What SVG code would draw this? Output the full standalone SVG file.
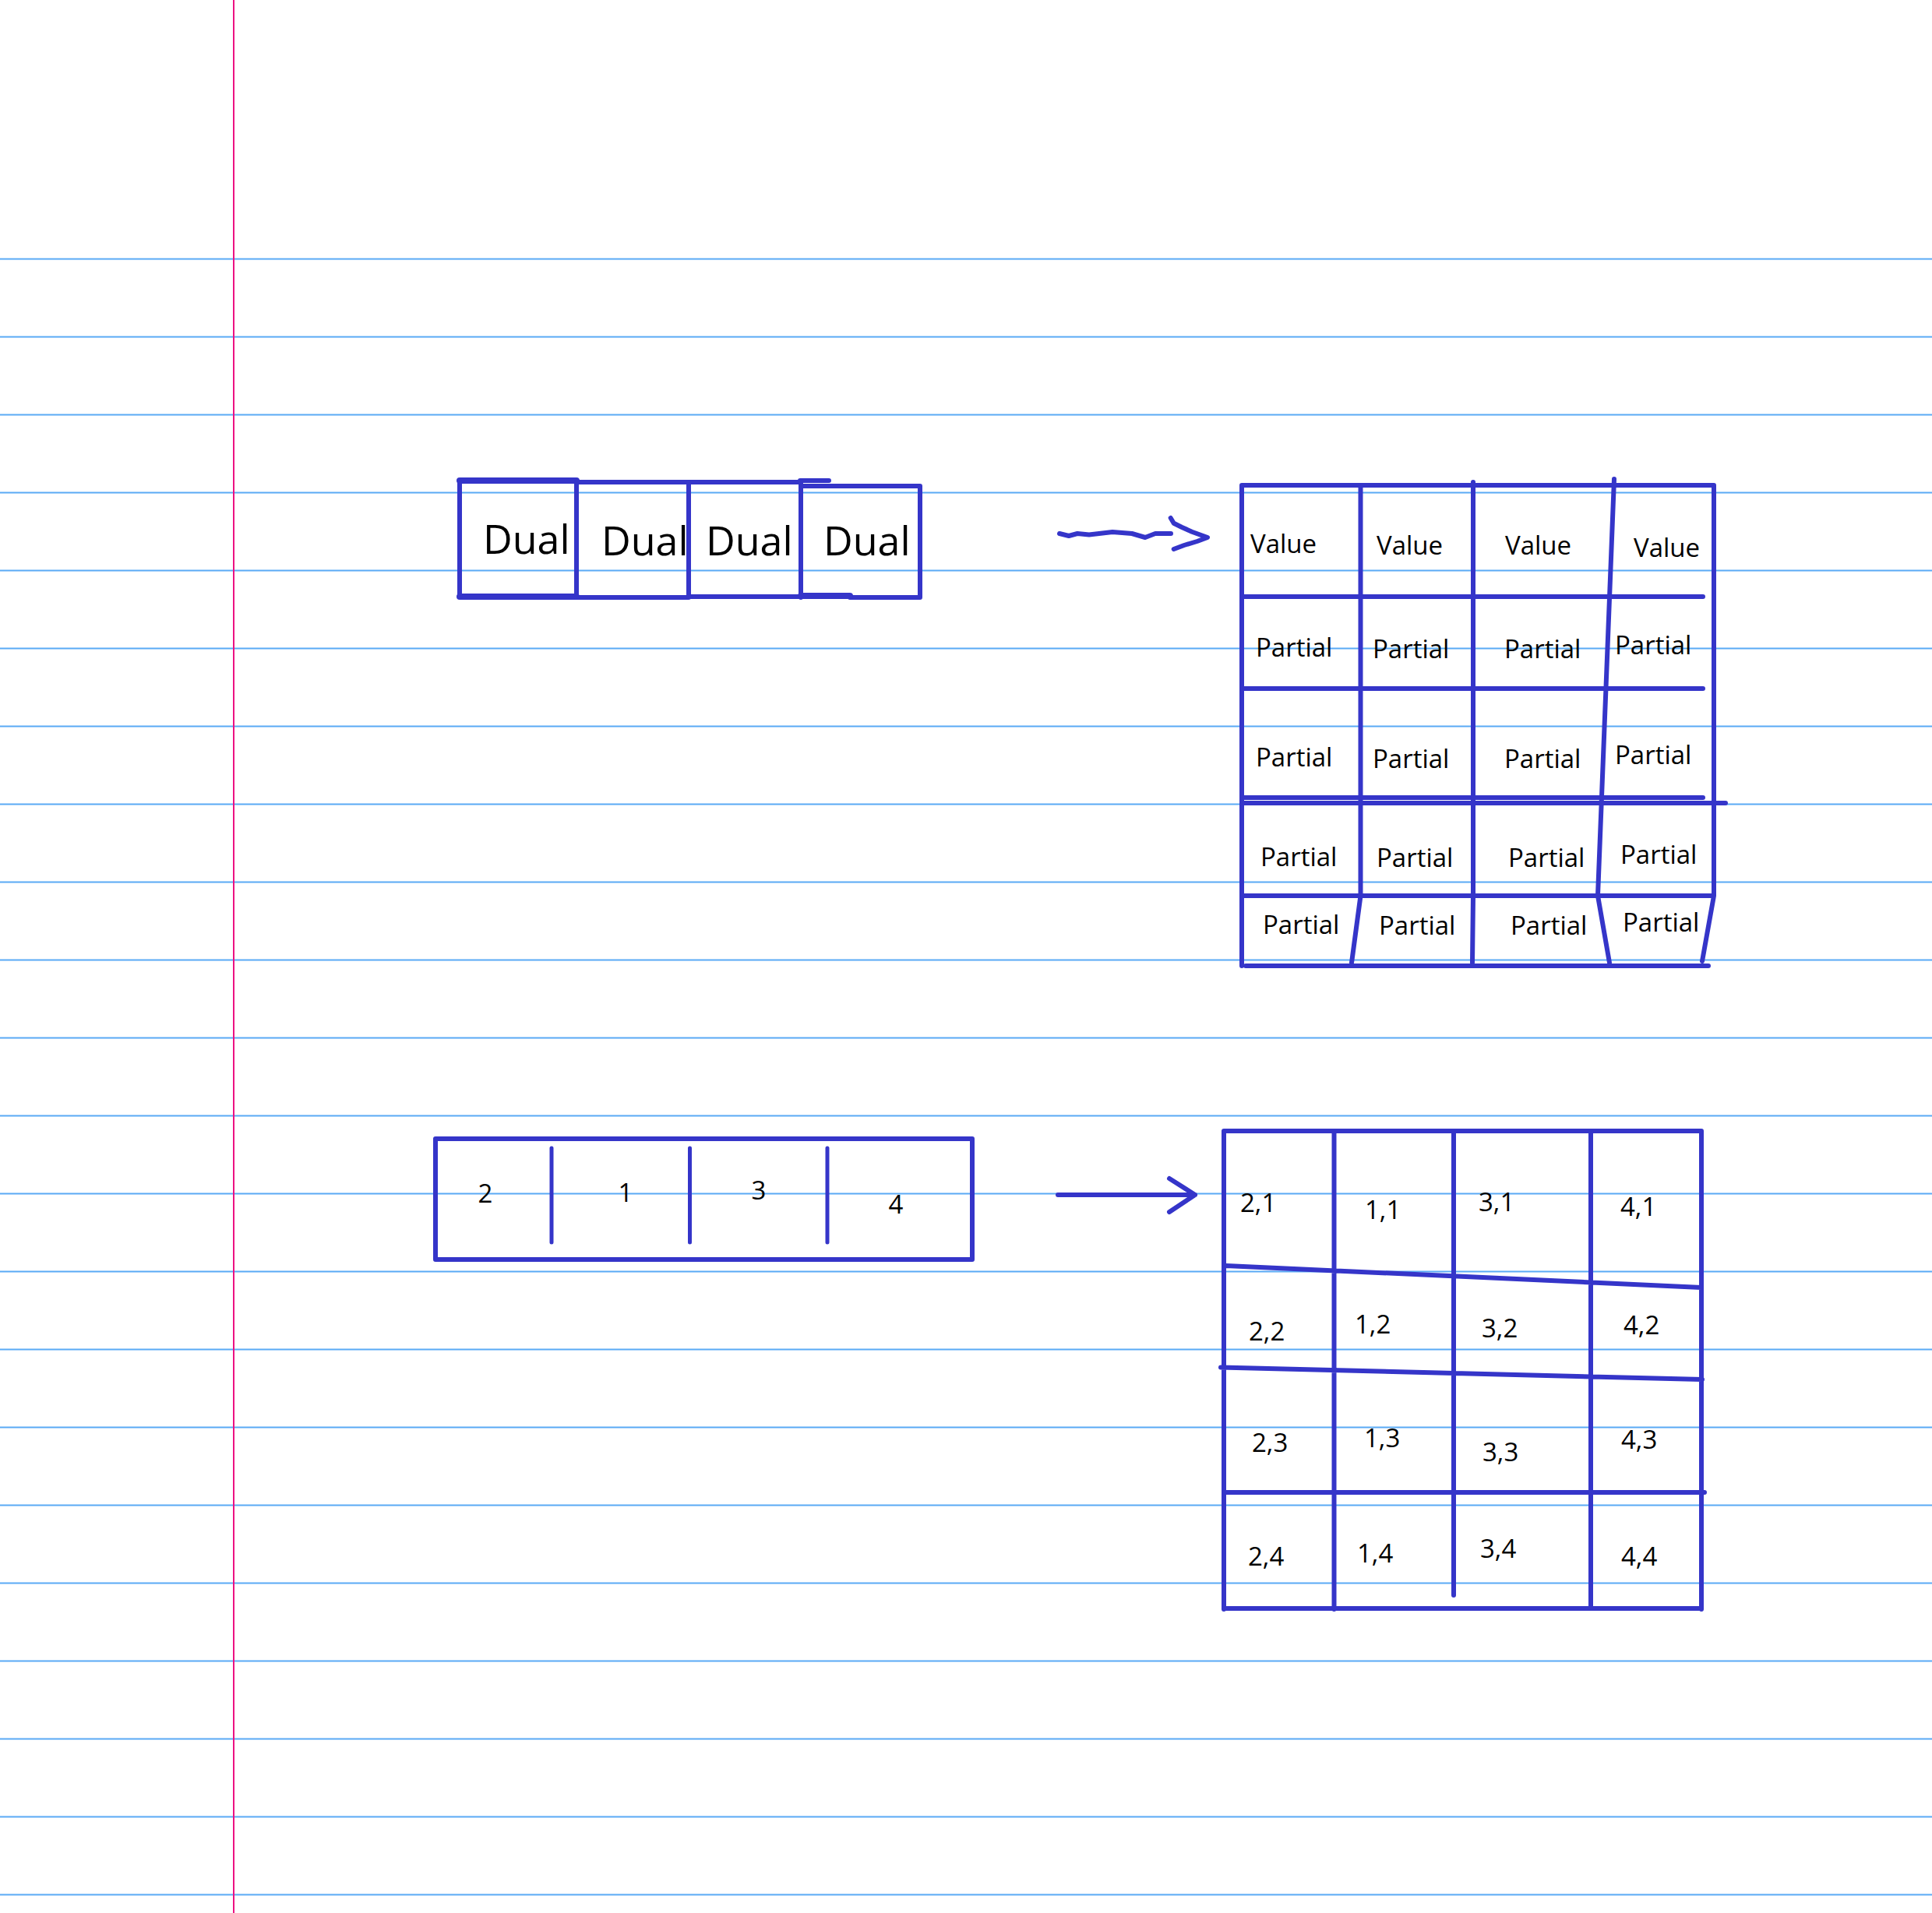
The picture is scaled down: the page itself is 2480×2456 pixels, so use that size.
<svg xmlns="http://www.w3.org/2000/svg" width="2480" height="2456" viewBox="0 0 2480 2456">
<style>
.rule{stroke:#5aaaf5;stroke-width:2;fill:none}
.margin{stroke:#ec1282;stroke-width:2;fill:none}
.ink{stroke:#3535c9;stroke-width:6;fill:none;stroke-linecap:round;stroke-linejoin:round}
.thick{stroke-width:8}
.thin{stroke-width:5}
.t{font-family:"Open Sans","Noto Sans","DejaVu Sans",sans-serif;font-size:33px;fill:#000}
.big{font-size:52px}
.mid{text-anchor:middle}
</style>
<rect x="0" y="0" width="2480" height="2456" fill="#ffffff"/>
<g id="paper">
<path class="rule" d="M0,332.5H2480M0,432.5H2480M0,532.5H2480M0,632.5H2480M0,732.5H2480M0,832.5H2480M0,932.5H2480M0,1032.5H2480M0,1132.5H2480M0,1232.5H2480M0,1332.5H2480M0,1432.5H2480M0,1532.5H2480M0,1632.5H2480M0,1732.5H2480M0,1832.5H2480M0,1932.5H2480M0,2032.5H2480M0,2132.5H2480M0,2232.5H2480M0,2332.5H2480M0,2432.5H2480"/>
<path class="margin" d="M300,0V2456"/>
</g>
<g id="dual1">
<path class="ink thick" d="M590,617H740M590,766H740"/>
<path class="ink" d="M590,618V766M740,618V767"/>
<text class="t big" x="620" y="711">Dual</text>
</g>
<g id="dual2">
<path class="ink" d="M740,619H884M740,767H884M884,619V767"/>
<text class="t big" x="772" y="713">Dual</text>
</g>
<g id="dual3">
<path class="ink" d="M884,619H1028M884,766H1028M1028,619V767M1027,617H1064"/>
<text class="t big" x="906" y="713">Dual</text>
</g>
<g id="dual4">
<path class="ink" d="M1028,624H1181V767H1091"/>
<path class="ink thick" d="M1028,765H1091"/>
<text class="t big" x="1057" y="713">Dual</text>
</g>
<g id="value-partial-grid">
<path class="ink" d="M1594,623H2200M1594,623V1240M2200,623V1150L2185,1234M1746.5,625V1150L1735,1236M1891,619V1150L1890,1236M2072,615L2051,1150L2066,1236M1594,766H2186M1594,884H2186M1594,1024H2186M1594,1031H2215M1594,1150H2200M1599,1240H2193"/>
<text class="t" x="1605" y="710">Value</text>
<text class="t" x="1767" y="712">Value</text>
<text class="t" x="1932" y="712">Value</text>
<text class="t" x="2097" y="715">Value</text>
<text class="t" x="1612" y="843">Partial</text>
<text class="t" x="1762" y="845">Partial</text>
<text class="t" x="1931" y="845">Partial</text>
<text class="t" x="2073" y="840">Partial</text>
<text class="t" x="1612" y="984">Partial</text>
<text class="t" x="1762" y="986">Partial</text>
<text class="t" x="1931" y="986">Partial</text>
<text class="t" x="2073" y="981">Partial</text>
<text class="t" x="1618" y="1112">Partial</text>
<text class="t" x="1767" y="1113">Partial</text>
<text class="t" x="1936" y="1113">Partial</text>
<text class="t" x="2080" y="1109">Partial</text>
<text class="t" x="1621" y="1199">Partial</text>
<text class="t" x="1770" y="1200">Partial</text>
<text class="t" x="1939" y="1200">Partial</text>
<text class="t" x="2083" y="1196">Partial</text>
</g>
<g id="index-row">
<rect class="ink" x="559" y="1462" width="689" height="155"/>
<path class="ink thin" d="M708,1474V1595M885.5,1474V1595M1062,1474V1595"/>
<text class="t mid" x="623" y="1544">2</text>
<text class="t mid" x="803" y="1543">1</text>
<text class="t mid" x="974" y="1540">3</text>
<text class="t mid" x="1150" y="1558">4</text>
</g>
<g id="pair-matrix">
<path class="ink" d="M1571,1452H2184M1571,1452V2066M2184,1452V2066M1571,2065H2184M1712.5,1452V2066M1866,1452V2048M2042,1452V2064M1574,1625L2184,1653M1567,1755.5L2185,1771M1571,1916H2188"/>
<text class="t" x="1592" y="1556">2,1</text>
<text class="t" x="1752" y="1565">1,1</text>
<text class="t" x="1898" y="1555">3,1</text>
<text class="t" x="2080" y="1561">4,1</text>
<text class="t" x="1603" y="1721">2,2</text>
<text class="t" x="1739" y="1712">1,2</text>
<text class="t" x="1902" y="1717">3,2</text>
<text class="t" x="2084" y="1713">4,2</text>
<text class="t" x="1607" y="1864">2,3</text>
<text class="t" x="1751" y="1858">1,3</text>
<text class="t" x="1903" y="1876">3,3</text>
<text class="t" x="2081" y="1860">4,3</text>
<text class="t" x="1602" y="2010">2,4</text>
<text class="t" x="1742" y="2006">1,4</text>
<text class="t" x="1900" y="2000">3,4</text>
<text class="t" x="2081" y="2010">4,4</text>
</g>
<g id="connectors">
<path class="ink" d="M1360,685L1372,688L1383,685L1398,686.5L1428,683L1453,685L1470,690L1483,685L1503,685"/>
<path class="ink" d="M1502.7,665L1506.7,671.7L1516.7,676.7L1530,682.7L1550,690L1536.7,695L1520,700L1506.7,705"/>
<path class="ink" d="M1358,1534H1534M1501,1513L1534,1534L1501,1556"/>
</g>
</svg>
